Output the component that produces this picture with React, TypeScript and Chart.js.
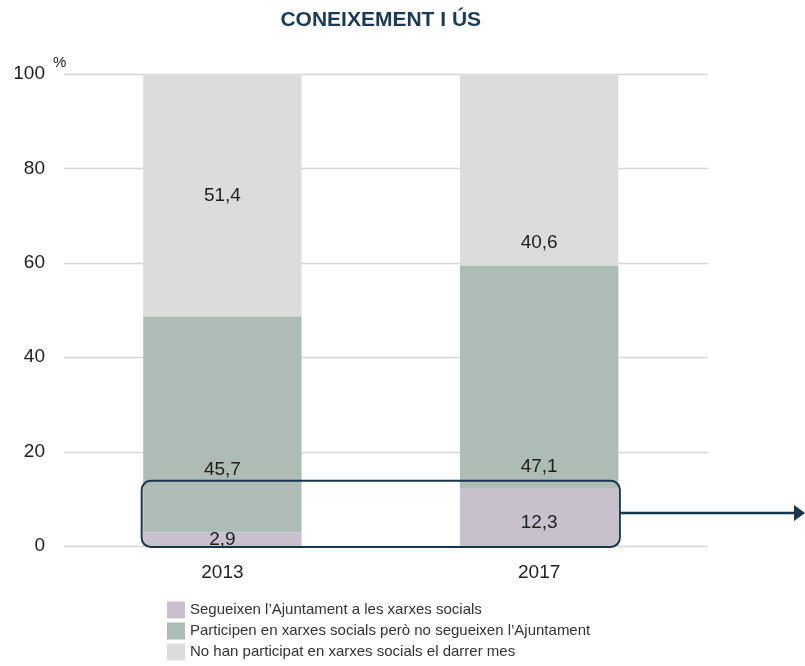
import React, { useEffect, useRef } from "react";
import { Chart, registerables } from "chart.js";

Chart.register(...registerables);

const categories = ["2013", "2017"];
const seriesNames = [
  "Segueixen l\u2019Ajuntament a les xarxes socials",
  "Participen en xarxes socials per\u00f2 no segueixen l\u2019Ajuntament",
  "No han participat en xarxes socials el darrer mes",
];
const followValues = [2.9, 12.3];
const participateValues = [45.7, 47.1];
const noneValues = [51.4, 40.6];
const seriesColors = ["#c8c0cd", "#adbcb4", "#dcdcdc"];
// value (in % units) where each data label sits, as in the original
const followLabelAt = [1.3, 4.9];
const participateLabelAt = [16.1, 16.7];
const noneLabelAt = [74.3, 64.2];
const yTicks = [0, 20, 40, 60, 80, 100];
const highlightRange = [-0.2, 13.8];
const arrowValue = 7;

const FONT = "'Liberation Sans', Arial, sans-serif";
const NAVY = "#17354d";

const fmt = (v: number) => v.toFixed(1).replace(".", ",");

const decorPlugin = {
  id: "decor",
  beforeDatasetsDraw(chart: any) {
    const { ctx, chartArea, scales } = chart;
    const y = scales.y;
    ctx.save();
    ctx.strokeStyle = "#d6d6d6";
    ctx.lineWidth = 1.5;
    yTicks.forEach((t) => {
      const py = Math.round(y.getPixelForValue(t)) + 0.5;
      ctx.beginPath();
      ctx.moveTo(chartArea.left, py);
      ctx.lineTo(chartArea.right + 10.5, py);
      ctx.stroke();
    });
    ctx.fillStyle = "#222";
    ctx.font = `15px ${FONT}`;
    ctx.textAlign = "left";
    ctx.textBaseline = "middle";
    ctx.fillText("%", chartArea.left - 11, chartArea.top - 11);
    ctx.restore();
  },
  afterDatasetsDraw(chart: any) {
    const { ctx, chartArea, scales } = chart;
    const y = scales.y;
    const anchors = [followLabelAt, participateLabelAt, noneLabelAt];
    ctx.save();
    ctx.fillStyle = "#1e1e1e";
    ctx.font = `19px ${FONT}`;
    ctx.textAlign = "center";
    ctx.textBaseline = "middle";
    chart.data.datasets.forEach((ds: any, i: number) => {
      const meta = chart.getDatasetMeta(i);
      meta.data.forEach((bar: any, j: number) => {
        ctx.fillText(fmt(ds.data[j]), bar.x, y.getPixelForValue(anchors[i][j]));
      });
    });
    // highlight box
    const m = chart.getDatasetMeta(0);
    const b0 = m.data[0];
    const b1 = m.data[m.data.length - 1];
    const left = b0.x - b0.width / 2 - 1.5;
    const right = b1.x + b1.width / 2 + 1.5;
    const top = y.getPixelForValue(highlightRange[1]);
    const bottom = y.getPixelForValue(highlightRange[0]);
    ctx.strokeStyle = NAVY;
    ctx.lineWidth = 2;
    ctx.beginPath();
    ctx.roundRect(left, top, right - left, bottom - top, 9);
    ctx.stroke();
    // arrow
    const ay = y.getPixelForValue(arrowValue);
    const endX = chart.width;
    ctx.lineWidth = 2.5;
    ctx.beginPath();
    ctx.moveTo(right, ay);
    ctx.lineTo(endX - 10, ay);
    ctx.stroke();
    ctx.fillStyle = NAVY;
    ctx.beginPath();
    ctx.moveTo(endX - 11, ay - 8);
    ctx.lineTo(endX, ay);
    ctx.lineTo(endX - 11, ay + 8);
    ctx.closePath();
    ctx.fill();
    // legend
    ctx.font = `15px ${FONT}`;
    ctx.textAlign = "left";
    ctx.textBaseline = "middle";
    seriesNames.forEach((name, i) => {
      const cy = chartArea.bottom + 64 + i * 21;
      ctx.fillStyle = seriesColors[i];
      ctx.fillRect(167, cy - 8.5, 18, 17);
      ctx.fillStyle = "#333";
      ctx.fillText(name, 190, cy);
    });
    ctx.restore();
  },
};

export default function App() {
  const ref = useRef<HTMLCanvasElement | null>(null);
  useEffect(() => {
    if (!ref.current) return;
    const chart = new Chart(ref.current, {
      type: "bar",
      data: {
        labels: categories,
        datasets: [
          { label: seriesNames[0], data: followValues, backgroundColor: seriesColors[0] },
          { label: seriesNames[1], data: participateValues, backgroundColor: seriesColors[1] },
          { label: seriesNames[2], data: noneValues, backgroundColor: seriesColors[2] },
        ],
      },
      options: {
        responsive: false,
        animation: false,
        datasets: { bar: { barPercentage: 0.5, categoryPercentage: 1 } },
        layout: { padding: { left: 15, right: 107.5, top: 0, bottom: 82 } },
        plugins: {
          legend: { display: false },
          tooltip: { enabled: false },
          title: {
            display: true,
            text: "CONEIXEMENT I \u00daS",
            fullSize: false,
            color: "#1b3a55",
            font: { family: FONT, size: 21, weight: "bold" },
            padding: { top: 8, bottom: 40.8 },
          },
        },
        scales: {
          x: {
            stacked: true,
            grid: { display: false, drawTicks: false },
            border: { display: false },
            ticks: { color: "#222", font: { family: FONT, size: 19 }, padding: 15 },
            afterFit: (s: any) => {
              s.height = 38;
            },
          },
          y: {
            stacked: true,
            min: 0,
            max: 100,
            grid: { display: false, drawTicks: false },
            border: { display: false },
            ticks: { stepSize: 20, color: "#222", font: { family: FONT, size: 19 }, padding: 19 },
            afterFit: (s: any) => {
              s.width = 49;
            },
          },
        },
      },
      plugins: [decorPlugin],
    });
    return () => chart.destroy();
  }, []);
  return (
    <div style={{ position: "absolute", left: 0, top: 0, width: 805, height: 666, background: "#fff" }}>
      <canvas ref={ref} width={805} height={666} />
    </div>
  );
}
